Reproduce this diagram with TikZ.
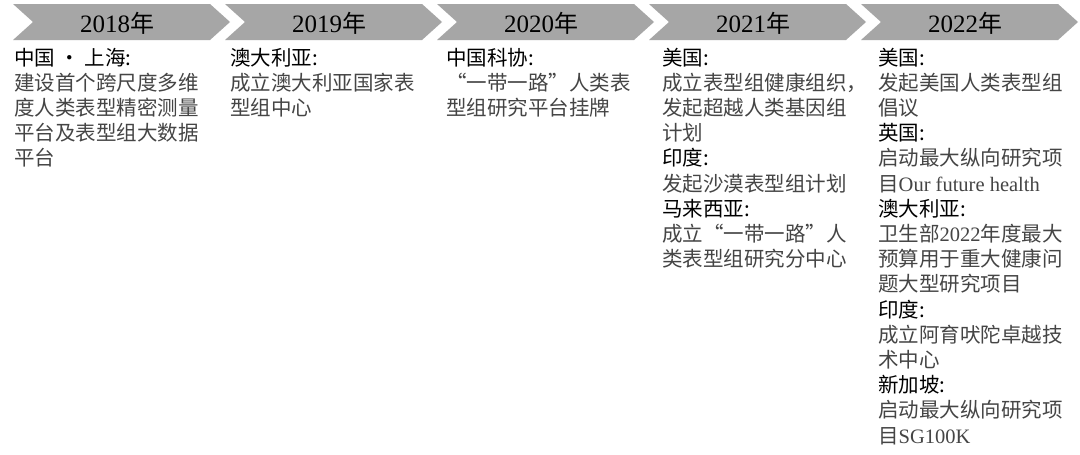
\documentclass[tikz,border=0pt]{standalone}
\usepackage{fontspec}
\usepackage{xcolor}
\usepackage{tikz}
\usetikzlibrary{positioning, calc}
\setmainfont{Noto Sans CJK SC}
\newfontfamily\lat{Liberation Serif}
\definecolor{chevgray}{rgb}{0.65, 0.65, 0.65}
\definecolor{bodygray}{rgb}{0.27, 0.27, 0.27}
\newcommand{\hd}[1]{\textcolor{black}{#1}}
\tikzset{
	yearlab/.style={anchor=base, inner sep=0pt, text=black, font=\fontsize{24}{24}\selectfont},
	evt/.style={anchor=base west, align=left, inner sep=0pt, text=bodygray, font=\fontsize{20.5}{25.2}\selectfont}
}

\begin{document}
\begin{tikzpicture}[x=1pt, y=-1pt]
				\fill[white] (0,0) rectangle (1080,455);
				\useasboundingbox (0,0) rectangle (1080,455);
				\foreach \yr [count=\i from 0] in {2018,2019,2020,2021,2022} {
					\pgfmathsetmacro{\lx}{13+212*\i}
					\fill[chevgray] (\lx,4) -- ++(197,0) -- ++(20,18) -- ++(-20,18) -- ++(-197,0) -- ++(20,-18) -- cycle;
					\node[yearlab] (y\yr) at (\lx+104,32) {{\lat\fontsize{25}{25}\selectfont\yr}年};
				}
				
				\pgfmathsetmacro{\lead}{25.2}
				\node[evt] (c2018) at (14,65+4*\lead) {\hd{中国 · 上海:}\\
					建设首个跨尺度多维\\
					度人类表型精密测量\\
					平台及表型组大数据\\
					平台};
				\node[evt] (c2019) at (230,65+2*\lead) {\hd{澳大利亚:}\\
					成立澳大利亚国家表\\
					型组中心};
				\node[evt] (c2020) at (446,65+2*\lead) {\hd{中国科协:}\\
					“一带一路”人类表\\
					型组研究平台挂牌};
				\node[evt] (c2021) at (662,65+8*\lead) {\hd{美国:}\\
					成立表型组健康组织，\\
					发起超越人类基因组\\
					计划\\
					\hd{印度:}\\
					发起沙漠表型组计划\\
					\hd{马来西亚:}\\
					成立“一带一路”人\\
					类表型组研究分中心};
				\node[evt] (c2022) at (878,65+15*\lead) {\hd{美国:}\\
					发起美国人类表型组\\
					倡议\\
					\hd{英国:}\\
					启动最大纵向研究项\\
					目{\lat Our future health}\\
					\hd{澳大利亚:}\\
					卫生部{\lat 2022}年度最大\\
					预算用于重大健康问\\
					题大型研究项目\\
					\hd{印度:}\\
					成立阿育吠陀卓越技\\
					术中心\\
					\hd{新加坡:}\\
					启动最大纵向研究项\\
					目{\lat SG100K}};
\end{tikzpicture}
\end{document}
